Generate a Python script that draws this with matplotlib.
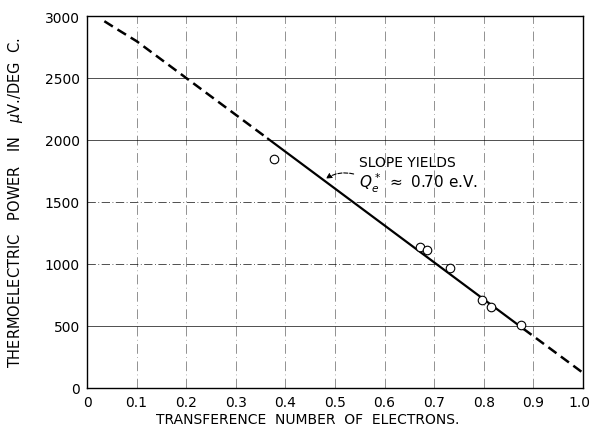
import numpy as np
import matplotlib.pyplot as plt
import matplotlib.transforms as mtransforms

# measured points (transference number, thermoelectric power)
t_meas = [0.378, 0.671, 0.685, 0.731, 0.796, 0.814, 0.875]
q_meas = [1850, 1137, 1113, 968, 710, 653, 508]

# fitted line, split in extrapolated (dashed) and fitted (solid) parts
t_dash1 = [0.035, 0.06, 0.10, 0.365]
q_dash1 = [2958, 2895, 2797, 2010]
t_solid = [0.365, 0.88]
q_solid = [2010, 477]
t_dash2 = [0.88, 1.0]
q_dash2 = [477, 122]

xticks = [0, 0.1, 0.2, 0.3, 0.4, 0.5, 0.6, 0.7, 0.8, 0.9, 1.0]
xlabels = ['0', '0.1', '0.2', '0.3', '0.4', '0.5', '0.6', '0.7', '0.8', '0.9', '1.0']
yticks = [0, 500, 1000, 1500, 2000, 2500, 3000]

fig = plt.figure(figsize=(5.9, 4.27), dpi=100)
ax = fig.add_axes([87/590, 1 - 389/427, (583-87)/590, (389-17)/427])

# grid: a mix of solid and broken lines like the old graph paper
for y, st in zip([500, 1000, 1500, 2000, 2500],
                 ['-', (0, (10, 3, 1, 3)), (0, (10, 3, 1, 3)), '-', '-']):
    ax.axhline(y, c='k', lw=0.6, ls=st, alpha=0.8, zorder=1)
for x in xticks[1:-1]:
    ax.axvline(x, c='k', lw=0.5, ls=(0, (14, 5, 1, 5)), alpha=0.6, zorder=1)

ax.plot(t_dash1, q_dash1, c='k', lw=1.8, ls=(0, (4, 2.2)), zorder=3)
ax.plot(t_solid, q_solid, c='k', lw=1.6, zorder=3)
ax.plot(t_dash2, q_dash2, c='k', lw=1.8, ls=(0, (4, 2.2)), zorder=3)
ax.scatter(t_meas, q_meas, s=38, facecolor='white', edgecolor='k',
           linewidth=0.8, zorder=4)

ax.set_xlim(0, 1.0)
ax.set_ylim(0, 3000)
ax.set_xticks(xticks)
ax.set_xticklabels(xlabels)
ax.set_yticks(yticks)
ax.tick_params(length=0, labelsize=10, pad=5)
ax.tick_params(axis='y', pad=5)
for s in ax.spines.values():
    s.set_linewidth(1.0)

# last x label is squeezed against the figure edge
last = ax.get_xticklabels()[-1]
last.set_transform(last.get_transform() +
                   mtransforms.ScaledTranslation(-4/100, 0, fig.dpi_scale_trans))

ax.annotate('', xy=(0.477, 1676), xytext=(0.543, 1720),
            arrowprops=dict(arrowstyle='-|>', color='k', lw=0.8, ls='--',
                            connectionstyle='arc3,rad=0.25', mutation_scale=8),
            zorder=5)
ax.text(0.548, 1820, 'SLOPE YIELDS', fontsize=10, va='center', ha='left')
ax.text(0.548, 1655, r'$Q_e^*$ $\approx$ 0.70 e.V.', fontsize=11,
        va='center', ha='left')

ax.set_xlabel('TRANSFERENCE  NUMBER  OF  ELECTRONS.', fontsize=10,
              va='center')
ax.xaxis.set_label_coords(0.444, -0.083)
ax.set_ylabel(r'THERMOELECTRIC   POWER   IN   $\mu$V./DEG  C.', fontsize=10.5,
              labelpad=14)

fig.savefig('out.png', dpi=100)
